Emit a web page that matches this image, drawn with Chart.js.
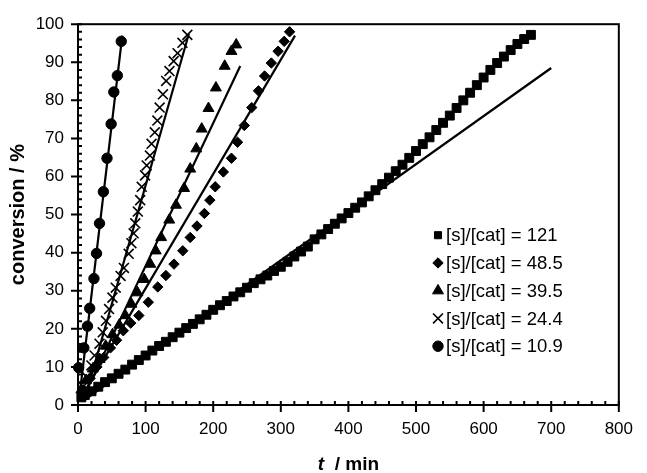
<!DOCTYPE html>
<html>
<head>
<meta charset="utf-8">
<script src="https://cdn.jsdelivr.net/npm/chart.js@4.4.0/dist/chart.umd.min.js"></script>
<style>
html, body { margin: 0; padding: 0; background: #fff; }
</style>
</head>
<body>
<canvas id="chart" width="647" height="473"></canvas>
<script>
// legend labels, in the order of the legend
const seriesLabels = ['[s]/[cat] = 121', '[s]/[cat] = 48.5', '[s]/[cat] = 39.5', '[s]/[cat] = 24.4', '[s]/[cat] = 10.9'];

// [s]/[cat] = 121 (squares)
const timeS121 = [5, 10, 20, 30, 40, 50, 60, 70, 80, 90, 100, 110, 120, 130, 140, 150, 160, 170, 180, 190,
    200, 210, 220, 230, 240, 250, 260, 270, 280, 290, 300, 310, 320, 330, 340, 350, 360, 370, 380, 390,
    400, 410, 420, 430, 440, 450, 460, 470, 480, 490, 500, 510, 520, 530, 540, 550, 560, 570, 580, 590,
    600, 610, 620, 630, 640, 650, 660, 670];
const convS121 = [2, 2.6, 3.6, 4.8, 6, 7, 8.2, 9.3, 10.6, 11.8, 13, 14.3, 15.5, 16.6, 17.8, 19, 20.2, 21.3, 22.5, 23.7,
    25, 26.2, 27.3, 28.5, 29.6, 30.8, 32, 33, 34, 35.2, 36.3, 37.6, 39, 40.3, 41.6, 43.5, 44.8, 46.2, 47.6, 49,
    50.4, 51.8, 53.2, 54.8, 56.4, 58, 59.7, 61.4, 63.1, 64.9, 66.7, 68.5, 70.3, 72.2, 74.1, 76, 78, 80, 82, 84,
    86, 88, 89.8, 91.5, 93.2, 94.8, 96.1, 97.2];

// [s]/[cat] = 48.5 (diamonds)
const timeS48 = [8, 18, 28, 38, 48, 57, 67, 78, 90, 104, 118, 130, 142, 155, 166, 176, 187, 195, 203, 215,
    227, 236, 246, 257, 267, 276, 286, 296, 305, 313];
const convS48 = [4, 7, 10, 12.5, 15, 17, 19.5, 21.5, 23.5, 27, 31, 34, 37, 40.5, 44, 47, 50.3, 53.8, 57.3, 61.2,
    64.8, 69, 73.4, 78.1, 82.5, 86.4, 89.8, 92.9, 95.5, 98];

// [s]/[cat] = 39.5 (triangles)
const timeS39 = [5, 12, 22, 32, 41, 51, 61, 70, 79, 88, 98, 107, 115, 123, 135, 145, 157, 166, 175, 183,
    193, 204, 217, 227, 234];
const convS39 = [4, 6.5, 9.5, 12, 15.5, 18.5, 21, 23.5, 26.5, 29.5, 33, 37, 40.5, 44, 48.6, 52.5, 56.9, 62, 67.3, 72.5,
    77.9, 83.3, 89, 92.9, 94.6];

// [s]/[cat] = 24.4 (crosses)
const timeS24 = [7.7, 12.6, 19.8, 24.5, 31.8, 36.6, 41.4, 46, 51, 55.8, 63, 67.9, 75, 79, 82.3, 84.7, 88.5,
    92, 94.3, 99.2, 101.6, 106.4, 108.8, 113.6, 117.4, 120.8, 125.6, 130.4, 135.3, 141.5, 147.3, 154.5, 161.7];
const convS24 = [4.8, 7.4, 10.4, 13, 16.1, 19.1, 22.1, 25.2, 28.2, 30.8, 33.9, 36, 39.7, 42.5, 45.1, 47.7, 50.8,
    53.8, 57.3, 60.3, 62.9, 65.5, 68.6, 71.6, 74.7, 78.1, 81.6, 85.1, 87.7, 90.3, 92.4, 95.1, 97.2];

// [s]/[cat] = 10.9 (circles)
const timeS10 = [1, 8.7, 14, 17.3, 23.6, 27.4, 31.8, 37.5, 42.9, 49, 53, 58.2, 64];
const convS10 = [9.8, 15, 20.7, 25.4, 33.2, 39.8, 47.7, 56, 64.8, 73.8, 82.2, 86.5, 95.5];

// linear fits: start and end of each straight line
const fitTime121 = [15, 700];
const fitConv121 = [2, 88.5];
const fitTime48 = [8, 321];
const fitConv48 = [3, 97];
const fitTime39 = [8, 240];
const fitConv39 = [2, 89];
const fitTime24 = [9, 164];
const fitConv24 = [1, 97.5];
const fitTime10 = [2, 65.5];
const fitConv10 = [2, 97];

const FONT = '"Liberation Sans", Arial, sans-serif';
Chart.defaults.font.family = FONT;
Chart.defaults.color = '#000';

const toPoints = (xs, ys) => xs.map((v, i) => ({ x: v, y: ys[i] }));

const markerSet = (label, xs, ys, style, radius, bw) => ({
    label: label,
    data: toPoints(xs, ys),
    pointStyle: style,
    pointRadius: radius,
    pointBackgroundColor: '#000',
    pointBorderColor: '#000',
    pointBorderWidth: bw,
    showLine: false,
    clip: false,
});

const fitSet = (xs, ys) => ({
    data: toPoints(xs, ys),
    showLine: true,
    borderColor: '#000',
    borderWidth: 2.2,
    pointRadius: 0,
    fill: false,
});

// ticks, frame, x title and in-plot legend
const decor = {
    id: 'decor',
    afterDraw(chart) {
        const { ctx, chartArea: a, scales: { x, y } } = chart;
        const minorDiv = 5;
        ctx.save();
        ctx.strokeStyle = '#000';
        ctx.lineWidth = 2;
        ctx.strokeRect(a.left, a.top, a.right - a.left, a.bottom - a.top);

        ctx.beginPath();
        const xt = x.ticks.map((t) => t.value);
        xt.forEach((v, i) => {
            const p = x.getPixelForValue(v);
            ctx.moveTo(p, a.bottom + 7);
            ctx.lineTo(p, a.bottom - 4);
            if (i < xt.length - 1) {
                for (let k = 1; k < minorDiv; k++) {
                    const q = x.getPixelForValue(v + ((xt[i + 1] - v) * k) / minorDiv);
                    ctx.moveTo(q, a.bottom + 1);
                    ctx.lineTo(q, a.bottom - 4);
                }
            }
        });
        const yt = y.ticks.map((t) => t.value);
        yt.forEach((v, i) => {
            const p = y.getPixelForValue(v);
            ctx.moveTo(a.left - 7, p);
            ctx.lineTo(a.left + 4, p);
            if (i < yt.length - 1) {
                for (let k = 1; k < minorDiv; k++) {
                    const q = y.getPixelForValue(v + ((yt[i + 1] - v) * k) / minorDiv);
                    ctx.moveTo(a.left - 1, q);
                    ctx.lineTo(a.left + 4, q);
                }
            }
        });
        ctx.stroke();

        // x axis title: italic t, then " / min"
        ctx.fillStyle = '#000';
        ctx.textBaseline = 'alphabetic';
        ctx.textAlign = 'left';
        const cx = (a.left + a.right) / 2;
        ctx.font = 'italic bold 19px ' + FONT;
        const tW = ctx.measureText('t').width;
        ctx.font = 'bold 19px ' + FONT;
        const rest = '  / min';
        const rW = ctx.measureText(rest).width;
        const sx = cx - (tW + rW) / 2;
        const by = chart.height - 3;
        ctx.font = 'italic bold 19px ' + FONT;
        ctx.fillText('t', sx, by);
        ctx.font = 'bold 19px ' + FONT;
        ctx.fillText(rest, sx + tW, by);

        // legend inside the plot
        const items = chart.data.datasets.filter((d) => d.label);
        const lx = a.left + 360;
        const ly = a.top + 211;
        const gap = 27.75;
        ctx.font = '18.5px ' + FONT;
        ctx.textBaseline = 'middle';
        items.forEach((d, i) => {
            const yy = ly + i * gap;
            ctx.fillStyle = '#000';
            ctx.strokeStyle = '#000';
            ctx.lineWidth = d.pointBorderWidth;
            Chart.helpers.drawPoint(ctx, {
                pointStyle: d.pointStyle,
                radius: d.pointStyle === 'rect' ? 5 : d.pointRadius,
                borderWidth: d.pointBorderWidth,
                rotation: 0,
            }, lx, yy);
            ctx.fillText(d.label, lx + 8, yy + 1);
        });
        ctx.restore();
    },
};

const ctx = document.getElementById('chart').getContext('2d');
const myChart = new Chart(ctx, {
    type: 'scatter',
    data: {
        datasets: [
            markerSet(seriesLabels[0], timeS121, convS121, 'rect', 6.3, 1),
            markerSet(seriesLabels[1], timeS48, convS48, 'rectRot', 5.2, 1),
            markerSet(seriesLabels[2], timeS39, convS39, 'triangle', 6.3, 1),
            markerSet(seriesLabels[3], timeS24, convS24, 'crossRot', 7, 1.6),
            markerSet(seriesLabels[4], timeS10, convS10, 'circle', 5.2, 1),
            fitSet(fitTime121, fitConv121),
            fitSet(fitTime48, fitConv48),
            fitSet(fitTime39, fitConv39),
            fitSet(fitTime24, fitConv24),
            fitSet(fitTime10, fitConv10),
        ],
    },
    options: {
        responsive: false,
        animation: false,
        layout: { padding: { top: 21, right: 15, left: 0, bottom: 0 } },
        plugins: {
            legend: { display: false },
            tooltip: { enabled: false },
        },
        scales: {
            x: {
                type: 'linear',
                min: 0,
                max: 800,
                ticks: { stepSize: 100, padding: 14, maxRotation: 0, font: { size: 17 }, color: '#000' },
                grid: { display: false, drawTicks: false },
                border: { display: false },
                afterFit(s) { s.height = 68; },
            },
            y: {
                type: 'linear',
                min: 0,
                max: 100,
                ticks: { stepSize: 10, padding: 14, font: { size: 17 }, color: '#000' },
                grid: { display: false, drawTicks: false },
                border: { display: false },
                title: {
                    display: true,
                    text: 'conversion / %',
                    font: { size: 20, weight: 'bold' },
                    color: '#000',
                    padding: { top: 6, bottom: 0 },
                },
                afterFit(s) { s.width = 78; },
            },
        },
    },
    plugins: [decor],
});
</script>
</body>
</html>
